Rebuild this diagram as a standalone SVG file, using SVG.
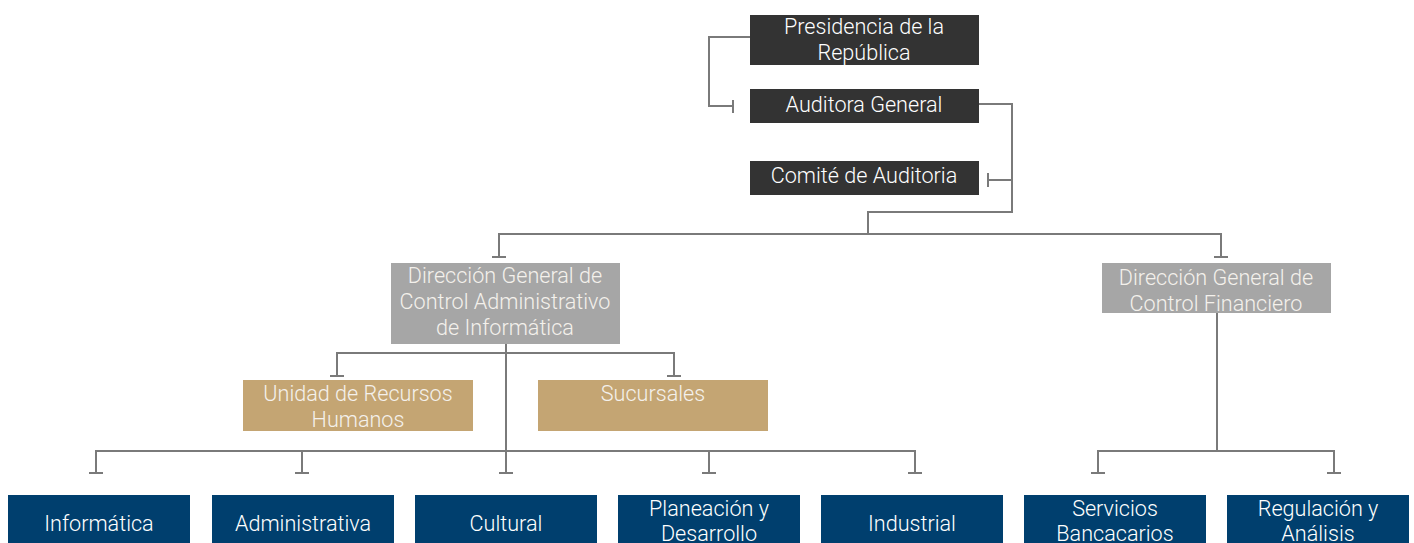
<svg xmlns="http://www.w3.org/2000/svg" width="1414" height="543" viewBox="0 0 1414 543">
<style>
.t{font-family:Roboto,"Liberation Sans",sans-serif;font-size:21.6px;font-weight:300;text-anchor:middle;fill:#ffffff}
.tl{fill:#f4f1ec}
.dark{fill:#333333}
.gray{fill:#a6a6a6}
.tan{fill:#c4a573}
.blue{fill:#003f6e}
.c{fill:none;stroke:#7a7a7a;stroke-width:2}
</style>
<rect width="1414" height="543" fill="#ffffff"/>
<g id="connectors" class="c">
<path d="M750 37 H709 V106 H733 M733 100 V113"/>
<path d="M979 104 H1012 V212 H868 V234"/>
<path d="M1012 180 H988 M988 173 V187"/>
<path d="M499 257 V234 H1221 V257 M492 257 H506 M1214 257 H1228"/>
<path d="M506 344 V451"/>
<path d="M337 376 V353 H674 V376 M330 376 H344 M667 376 H681"/>
<path d="M96 473 V451 H915 V473 M89 473 H103 M302 451 V473 M295 473 H309 M506 451 V473 M499 473 H513 M709 451 V473 M702 473 H716 M908 473 H922"/>
<path d="M1217 295 V451 M1098 473 V451 H1334 V473 M1091 473 H1105 M1327 473 H1341"/>
</g>
<g id="n-presidencia"><rect class="dark" x="750" y="15" width="229" height="50"/><text class="t" x="864" y="34">Presidencia de la</text><text class="t" x="864" y="60">República</text></g>
<g id="n-auditora"><rect class="dark" x="750" y="89" width="229" height="34"/><text class="t" x="864" y="112">Auditora General</text></g>
<g id="n-comite"><rect class="dark" x="750" y="161" width="229" height="34"/><text class="t" x="864" y="183">Comité de Auditoria</text></g>
<g id="n-dgcai"><rect class="gray" x="391" y="263" width="229" height="81"/><text class="t tl" x="505" y="283">Dirección General de</text><text class="t tl" x="505" y="309">Control Administrativo</text><text class="t tl" x="505" y="335">de Informática</text></g>
<g id="n-dgcf"><rect class="gray" x="1102" y="263" width="229" height="50"/><text class="t tl" x="1216" y="285">Dirección General de</text><text class="t tl" x="1216" y="311">Control Financiero</text></g>
<g id="n-urh"><rect class="tan" x="243" y="380" width="230" height="51"/><text class="t tl" x="358" y="401">Unidad de Recursos</text><text class="t tl" x="358" y="427">Humanos</text></g>
<g id="n-sucursales"><rect class="tan" x="538" y="380" width="230" height="51"/><text class="t tl" x="653" y="401">Sucursales</text></g>
<g id="n-informatica"><rect class="blue" x="8" y="495" width="182" height="60"/><text class="t" x="99" y="531">Informática</text></g>
<g id="n-administrativa"><rect class="blue" x="212" y="495" width="182" height="60"/><text class="t" x="303" y="531">Administrativa</text></g>
<g id="n-cultural"><rect class="blue" x="415" y="495" width="182" height="60"/><text class="t" x="506" y="531">Cultural</text></g>
<g id="n-planeacion"><rect class="blue" x="618" y="495" width="182" height="60"/><text class="t" x="709" y="516">Planeación y</text><text class="t" x="709" y="541">Desarrollo</text></g>
<g id="n-industrial"><rect class="blue" x="821" y="495" width="182" height="60"/><text class="t" x="912" y="531">Industrial</text></g>
<g id="n-servicios"><rect class="blue" x="1024" y="495" width="182" height="60"/><text class="t" x="1115" y="516">Servicios</text><text class="t" x="1115" y="541">Bancacarios</text></g>
<g id="n-regulacion"><rect class="blue" x="1227" y="495" width="182" height="60"/><text class="t" x="1318" y="516">Regulación y</text><text class="t" x="1318" y="541">Análisis</text></g>
</svg>
